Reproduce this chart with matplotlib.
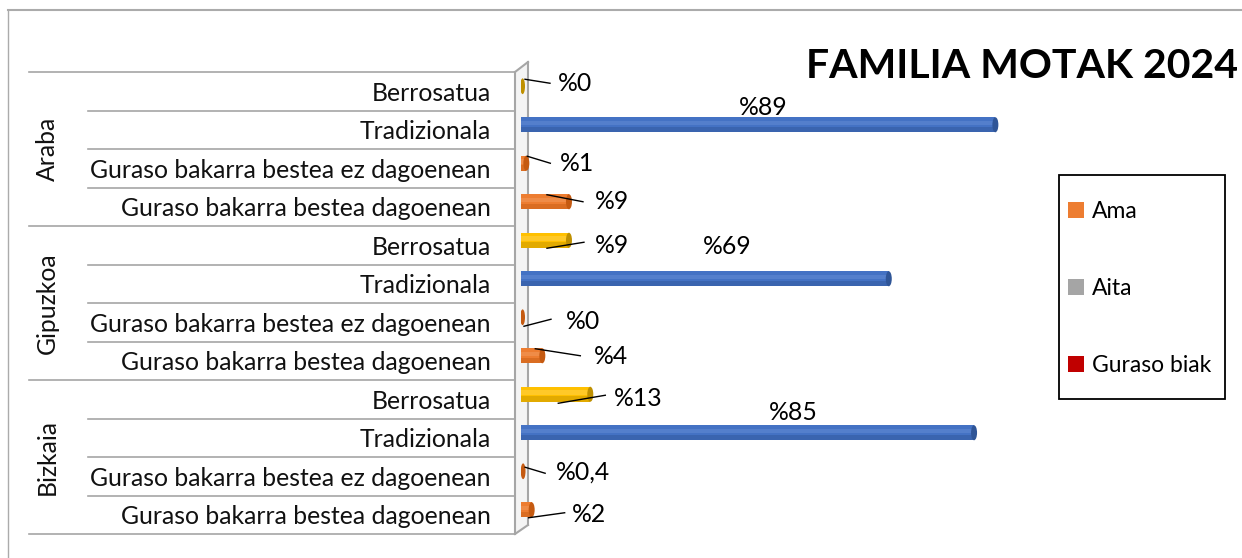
"""
familia motak 2024 - horizontal cylinder bars per territory
outputs: out.png
"""

import matplotlib.pyplot as plt
from matplotlib.patches import Ellipse, Patch, Rectangle
from matplotlib.lines import Line2D

# -- DATA --
territories = ["Araba", "Gipuzkoa", "Bizkaia"]
family_types = [
    "Berrosatua",
    "Tradizionala",
    "Guraso bakarra bestea ez dagoenean",
    "Guraso bakarra bestea dagoenean",
]
araba = [0, 89, 1, 9]
gipuzkoa = [9, 69, 0, 4]
bizkaia = [13, 85, 0.4, 2]
value_labels = ["%0", "%89", "%1", "%9",
                "%9", "%69", "%0", "%4",
                "%13", "%85", "%0,4", "%2"]
legend_labels = ["Ama", "Aita", "Guraso biak"]

# -- STYLE --
W, H = 1242, 558
X0_PX, PX_PER_UNIT = 521, 5.33
TOP_PX, BOT_PX = 72, 534
FONT = "Lato"
FS = 17.8

colors = {
    "yellow": ("#FFC000", "#FFD966", "#BF9000"),
    "blue": ("#4472C4", "#6E95DA", "#2F5597"),
    "orange": ("#ED7D31", "#F4A36B", "#C55A11"),
}
type_colors = ["yellow", "blue", "orange", "orange"]

# label placement, pixels relative to bar end / bar centre:
# (anchor dx, anchor dy, line end dx, line end dy, text dx, text dy)
label_pos = [
    (4, -7, 29, -3, 37, -3),
    (None, None, None, None, -232, -17),
    (1, -7, 24, 0, 34, 0),
    (-22, -7, 14, 0, 26, 0),
    (-22, 8, 15, 2, 26, 5),
    (None, None, None, None, -162, -32),
    (3, 9, 30, 2, 45, 4),
    (-7, -7, 38, 0, 52, 1),
    (-32, 9, 15, 1, 24, 4),
    (None, None, None, None, -181, -20),
    (2, -4, 22, 2, 33, 1),
    (-3, 8, 33, 3, 40, 5),
]

values = araba + gipuzkoa + bizkaia
n_rows = len(values)
row_px = (BOT_PX - TOP_PX) / n_rows
ux = 1 / PX_PER_UNIT          # data units per pixel, x
uy = 1 / row_px               # data units per pixel, y

fig = plt.figure(figsize=(W / 100, H / 100), dpi=100)
ax = fig.add_axes([X0_PX / W, (H - BOT_PX) / H, (W - X0_PX) / W, (BOT_PX - TOP_PX) / H])
ax.set_xlim(0, (W - X0_PX) * ux)
ax.set_ylim(n_rows, 0)
ax.axis("off")

bar_h = 15 * uy
cap_w = 6 * ux

# Bars drawn as simple cylinders: body, soft lower shade, highlight, end cap
for i, v in enumerate(values):
    cname = type_colors[i % 4]
    base, light, dark = colors[cname]
    yc = i + 0.5 - 5 * uy
    if v >= 0.5:
        ax.barh(yc, v, height=bar_h, color=base, edgecolor="none", zorder=3)
        ax.barh(yc + bar_h * 0.32, v, height=bar_h * 0.36, color=dark, alpha=0.45,
                edgecolor="none", zorder=3)
        ax.barh(yc - bar_h * 0.12, v, height=bar_h * 0.3, color=light, alpha=0.4,
                edgecolor="none", zorder=3)
        ax.add_patch(Ellipse((v, yc), cap_w, bar_h, facecolor=dark, edgecolor="none",
                             zorder=4))
    else:
        ax.add_patch(Ellipse((max(v, 0.3), yc), cap_w * 0.8, bar_h * 1.05, facecolor=dark,
                             edgecolor="none", zorder=4))

    # value labels with leader lines
    adx, ady, ldx, ldy, tdx, tdy = label_pos[i]
    if adx is not None:
        ax.plot([v + adx * ux, v + ldx * ux], [yc + ady * uy, yc + ldy * uy],
                color="black", linewidth=1, zorder=5, clip_on=False)
        ax.text(v + tdx * ux, yc + tdy * uy, value_labels[i], ha="left", va="center",
                fontsize=FS, family=FONT, zorder=6)
    else:
        ax.text(v + tdx * ux, yc + tdy * uy, value_labels[i], ha="center", va="center",
                fontsize=FS, family=FONT, zorder=6)

# 3D wall at the base of the bars
wall_front = -6 * ux
wall_back = 7 * ux
grey = "#A6A6A6"
ax.plot([wall_front, wall_front], [0, n_rows], color=grey, lw=1.5, clip_on=False)
ax.plot([wall_back, wall_back], [-10 * uy, n_rows - 9 * uy], color=grey, lw=1.5,
        clip_on=False)
ax.plot([wall_front, wall_back], [0, -10 * uy], color=grey, lw=1.5, clip_on=False)
ax.plot([wall_front, wall_back], [n_rows, n_rows - 9 * uy], color=grey, lw=1.5,
        clip_on=False)
ax.fill([wall_front, wall_back, wall_back, wall_front],
        [0, -10 * uy, n_rows - 9 * uy, n_rows], color="#F4F4F4", zorder=0, clip_on=False)

# Category table on the left
table_left = (29 - X0_PX) * ux
inner_left = (88 - X0_PX) * ux
for i in range(n_rows + 1):
    left = table_left if i % 4 == 0 else inner_left
    ax.plot([left, wall_front], [i, i], color=grey, lw=1.2, clip_on=False)

for i in range(n_rows):
    ax.text((491 - X0_PX) * ux, i + 0.5 + 2 * uy, family_types[i % 4], ha="right",
            va="center", fontsize=FS, family=FONT, color="#111111")

for g, name in enumerate(territories):
    ax.text((47 - X0_PX) * ux, g * 4 + 2, name, rotation=90, ha="center", va="center",
            fontsize=FS, family=FONT, color="#111111")

# Title
fig.text(1238 / W, 1 - 67 / H, "FAMILIA MOTAK 2024", ha="right", va="center",
         fontsize=29.5, fontweight="bold", family=FONT)

# Legend (series colours as in the original chart), frame drawn separately
fig.add_artist(Rectangle((1059 / W, 1 - 399 / H), 166 / W, 224 / H, transform=fig.transFigure,
                         facecolor="white", edgecolor="black", linewidth=1.3, zorder=1))
handles = [Patch(facecolor=c, edgecolor="none", label=l)
           for c, l in zip(["#ED7D31", "#A5A5A5", "#C00000"], legend_labels)]
leg = fig.legend(handles=handles, loc="upper left",
                 bbox_to_anchor=(1068 / W, 1 - 201 / H), frameon=False,
                 prop={"family": FONT, "size": 16.5}, handlelength=0.7, handleheight=0.7,
                 handletextpad=0.35, labelspacing=2.45, borderpad=0, borderaxespad=0)
leg.set_zorder(2)

# Outer chart border (only top and left visible)
fig.add_artist(Line2D([8 / W, 1], [1 - 10 / H, 1 - 10 / H], color="#ABABAB", lw=1.5))
fig.add_artist(Line2D([8 / W, 8 / W], [1 - 10 / H, 0], color="#ABABAB", lw=1))

fig.savefig("out.png", dpi=100)
